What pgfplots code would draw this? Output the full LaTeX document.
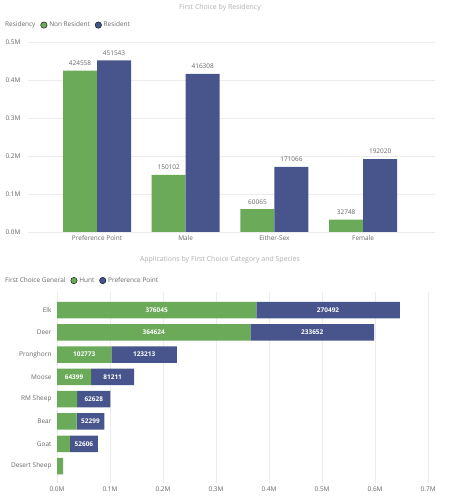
\documentclass[border=0pt]{standalone}
\usepackage{fontspec}
\setmainfont{Open Sans}
\usepackage{pgfplots}
\pgfplotsset{compat=1.18}
\definecolor{pbgreen}{RGB}{107,170,88}
\definecolor{pbblue}{RGB}{72,85,140}
\definecolor{txt}{RGB}{102,102,102}
\definecolor{ttl}{RGB}{175,175,175}
\definecolor{grd}{RGB}{236,236,236}
\newcommand{\sm}{\fontsize{6.5}{7.5}\selectfont}
\pgfplotsset{
  pbi/.style={
    scale only axis,
    axis line style={draw=none},
    tick style={draw=none},
    grid style={grd, line width=0.6bp},
    ticklabel style={font=\sm, text=txt},
    legend style={draw=none, fill=none, legend columns=-1, font=\sm, text=txt,
      inner sep=0pt, /tikz/every even column/.append style={column sep=3bp}},
    legend image code/.code={\fill[##1] (3bp,0bp) circle (3.2bp);},
  },
}
\begin{document}
\begin{tikzpicture}[x=1bp,y=1bp]
\useasboundingbox (0,0) rectangle (453,500);
\node[font=\fontsize{7}{8}\selectfont, text=ttl] at (220,492) {First Choice by Residency};
\node[font=\fontsize{7}{8}\selectfont, text=ttl] at (220,240) {Applications by First Choice Category and Species};

% top: grouped columns
\begin{axis}[pbi,
  at={(28bp,268bp)}, anchor=south west,
  width=407bp, height=190bp,
  xmin=-0.778, xmax=3.81, ymin=0, ymax=500000,
  xtick={0,1,2,3},
  xticklabels={Preference Point,Male,Either-Sex,Female},
  ytick={0,100000,200000,300000,400000,500000},
  yticklabels={0.0M,0.1M,0.2M,0.3M,0.4M,0.5M},
  scaled y ticks=false,
  yticklabel style={anchor=west, xshift=-26bp},
  ymajorgrids,
  point meta=explicit symbolic,
  nodes near coords,
  every node near coord/.append style={font=\sm, text=txt, yshift=1.5bp},
  legend style={at={(axis description cs:-0.0614,1.089)}, anchor=west},
]
\addplot[forget plot, ybar, bar width=34bp, bar shift=-17bp, fill=pbgreen, draw=none,
  every node near coord/.append style={xshift=-17bp}]
  coordinates {(0,424558)[424558] (1,150102)[150102] (2,60065)[60065] (3,32748)[32748]};
\addplot[forget plot, ybar, bar width=34bp, bar shift=17bp, fill=pbblue, draw=none,
  every node near coord/.append style={xshift=17bp}]
  coordinates {(0,451543)[451543] (1,416308)[416308] (2,171066)[171066] (3,192020)[192020]};
\addlegendimage{empty legend}\addlegendentry{Residency}
\addlegendimage{fill=pbgreen}\addlegendentry{Non Resident}
\addlegendimage{fill=pbblue}\addlegendentry{Resident}
\end{axis}

% bottom: stacked bars
\begin{axis}[pbi,
  at={(57bp,17bp)}, anchor=south west,
  width=378bp, height=191bp,
  xmin=0, xmax=713000, ymin=-0.81, ymax=7.76, y dir=reverse,
  stack plots=x,
  ytick={0,1,2,3,4,5,6,7},
  yticklabels={Elk,Deer,Pronghorn,Moose,RM Sheep,Bear,Goat,Desert Sheep},
  yticklabel style={xshift=-2bp},
  xtick={0,100000,200000,300000,400000,500000,600000,700000},
  xticklabels={0.0M,0.1M,0.2M,0.3M,0.4M,0.5M,0.6M,0.7M},
  scaled x ticks=false,
  xmajorgrids,
  point meta=explicit symbolic,
  nodes near coords,
  visualization depends on=rawx \as \rawx,
  every node near coord/.append style={font=\sm\bfseries, text=white, anchor=center,
    shift={(axis direction cs:-\rawx/2,0)}},
  legend style={at={(axis description cs:-0.143,1.06)}, anchor=west},
]
\addplot[forget plot, xbar, bar width=16.5bp, bar shift=0pt, fill=pbgreen, draw=none]
  coordinates {(376045,0)[376045] (364624,1)[364624] (102773,2)[102773] (64399,3)[64399]
               (38000,4)[] (37000,5)[] (24500,6)[] (11500,7)[]};
\addplot[forget plot, xbar, bar width=16.5bp, bar shift=0pt, fill=pbblue, draw=none]
  coordinates {(270492,0)[270492] (233652,1)[233652] (123213,2)[123213] (81211,3)[81211]
               (62628,4)[62628] (52299,5)[52299] (52606,6)[52606]};
\addlegendimage{empty legend}\addlegendentry{First Choice General}
\addlegendimage{fill=pbgreen}\addlegendentry{Hunt}
\addlegendimage{fill=pbblue}\addlegendentry{Preference Point}
\end{axis}
\end{tikzpicture}
\end{document}
